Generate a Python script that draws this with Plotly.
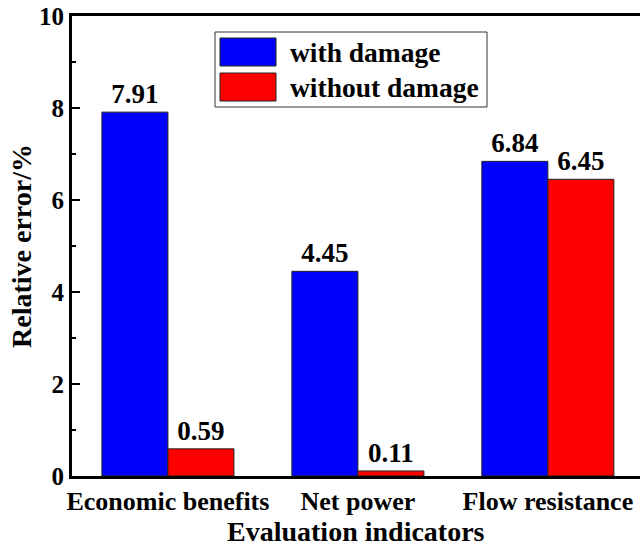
import plotly.graph_objects as go

categories = ["Economic benefits", "Net power", "Flow resistance"]
with_damage = [7.91, 4.45, 6.84]
without_damage = [0.59, 0.11, 6.45]
series_names = ["with damage", "without damage"]
colors = ["#0000ff", "#ff0000"]
x_title = "Evaluation indicators"
y_title = "Relative error/%"

FONT = "Liberation Serif, Times New Roman, serif"

fig = go.Figure()
for name, vals, col in zip(series_names, [with_damage, without_damage], colors):
    fig.add_trace(go.Bar(
        x=categories, y=vals, name=name,
        marker=dict(color=col, line=dict(color="#222", width=1)),
        text=[f"{v:.2f}" for v in vals], textposition="outside",
        textfont=dict(family=FONT, size=27, color="black", weight="bold"),
        cliponaxis=False, showlegend=False,
    ))

# custom legend (large swatches)
ly0 = 32
for i, (name, col) in enumerate(zip(series_names, colors)):
    yy = ly0 + 6 + i * 35
    fig.add_shape(type="rect", xref="paper", yref="paper",
                  x0=(220 - 72) / 568, x1=(276 - 72) / 568,
                  y0=(476 - (yy + 28)) / 460, y1=(476 - yy) / 460,
                  fillcolor=col, line=dict(color="#222", width=1))
    fig.add_annotation(xref="paper", yref="paper", x=(288 - 72) / 568, y=(476 - (yy + 14)) / 460,
                       text=name, showarrow=False, xanchor="left", yanchor="middle",
                       font=dict(family=FONT, size=27.5, color="black", weight="bold"))
fig.add_shape(type="rect", xref="paper", yref="paper",
              x0=(215 - 72) / 568, x1=(487 - 72) / 568,
              y0=(476 - 107) / 460, y1=(476 - 32) / 460,
              line=dict(color="#333", width=1), fillcolor="rgba(0,0,0,0)")

# axis titles
fig.add_annotation(xref="paper", yref="paper", x=0.5, y=(476 - 531) / 460,
                   text=x_title, showarrow=False, xanchor="center", yanchor="middle",
                   font=dict(family=FONT, size=28, color="black", weight="bold"))
fig.add_annotation(xref="paper", yref="paper", x=(21 - 72) / 568, y=0.5,
                   text=y_title, showarrow=False, xanchor="center", yanchor="middle", textangle=-90,
                   font=dict(family=FONT, size=28, color="black", weight="bold"))

fig.update_layout(
    width=640, height=548,
    margin=dict(l=72, r=0, t=16, b=72),
    paper_bgcolor="white", plot_bgcolor="white",
    barmode="group", bargap=0.305, bargroupgap=0,
    font=dict(family=FONT, color="black"),
    xaxis=dict(
        range=[-0.505, 2.485], automargin=False,
        showline=True, linewidth=3, linecolor="black", mirror=True,
        ticks="", showgrid=False,
        tickfont=dict(family=FONT, size=26, color="black", weight="bold"),
    ),
    yaxis=dict(
        range=[0, 10], dtick=2, automargin=False,
        showline=True, linewidth=3, linecolor="black", mirror=False,
        ticks="inside", ticklen=8, tickwidth=2, tickcolor="black",
        minor=dict(dtick=1, ticks="inside", ticklen=4, tickwidth=2, tickcolor="black"),
        showgrid=False, zeroline=False,
        tickfont=dict(family=FONT, size=25, color="black", weight="bold"),
    ),
)

fig.write_html("out.html")
